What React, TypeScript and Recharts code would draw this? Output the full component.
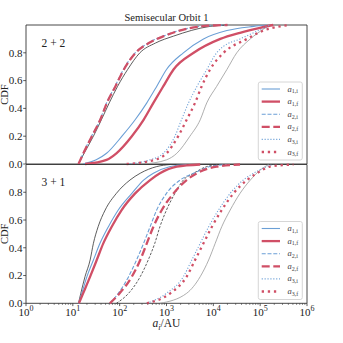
import React from "react";
import { Customized, Line, LineChart, ReferenceArea, XAxis, YAxis } from "recharts";

type Pt = [number, number]; // [a in AU, CDF]

// ---- 2 + 2 panel ----
const TOP_REF_A2: Pt[] = [[13.2, 0], [17.4, 0.077], [27.5, 0.2], [40.7, 0.318], [60, 0.44], [90, 0.558], [148, 0.68], [270, 0.8], [580, 0.87], [1413, 0.92], [8511, 0.99], [19953, 1]];
const TOP_REF_A3: Pt[] = [[324, 0], [1000, 0.03], [1660, 0.077], [3162, 0.2], [5248, 0.318], [7244, 0.44], [11749, 0.558], [19498, 0.68], [31623, 0.8], [61660, 0.9], [117490, 0.97], [162181, 1]];
const TOP_A1_I: Pt[] = [[16.6, 0], [31.6, 0.03], [52.5, 0.077], [112, 0.2], [214, 0.318], [380, 0.44], [617, 0.558], [1000, 0.68], [2291, 0.8], [6166, 0.9], [19498, 0.96], [72444, 0.99], [138038, 1]];
const TOP_A1_F: Pt[] = [[18.2, 0], [52.5, 0.03], [85.1, 0.077], [182, 0.2], [324, 0.318], [525, 0.44], [851, 0.558], [1413, 0.68], [3802, 0.8], [14125, 0.9], [37154, 0.944], [100000, 0.98], [190546, 1]];
const TOP_A2_I: Pt[] = [[13.2, 0], [16.6, 0.077], [25.1, 0.2], [38, 0.318], [52.5, 0.44], [79.4, 0.558], [120, 0.68], [214, 0.8], [407, 0.87], [851, 0.92], [5248, 0.99], [19953, 1]];
const TOP_A2_F: Pt[] = [[13.2, 0], [16.8, 0.077], [25.5, 0.2], [38.5, 0.318], [53.5, 0.44], [81, 0.558], [123, 0.68], [220, 0.8], [420, 0.87], [880, 0.92], [5500, 0.99], [20000, 1]];
const TOP_A3_I: Pt[] = [[141, 0], [447, 0.03], [851, 0.077], [1514, 0.2], [2089, 0.318], [2951, 0.44], [4467, 0.558], [7244, 0.68], [11749, 0.8], [16596, 0.847], [37154, 0.9], [72444, 0.944], [162181, 1]];
const TOP_A3_F: Pt[] = [[141, 0], [562, 0.03], [1000, 0.077], [1778, 0.2], [2692, 0.318], [4074, 0.44], [5623, 0.558], [8511, 0.68], [16596, 0.8], [52481, 0.9], [117490, 0.96], [269153, 0.99], [436516, 1]];

// ---- 3 + 1 panel ----
const BOT_REF_A1: Pt[] = [[13.2, 0], [14.8, 0.072], [18.2, 0.192], [23.4, 0.312], [27.5, 0.432], [34.7, 0.552], [49, 0.672], [85.1, 0.792], [166, 0.888], [275, 0.937], [617, 0.985], [1202, 1]];
const BOT_REF_A2: Pt[] = [[85.1, 0], [155, 0.072], [275, 0.192], [407, 0.312], [562, 0.432], [724, 0.552], [1000, 0.672], [1514, 0.792], [2291, 0.888], [3802, 0.937], [7244, 0.985], [14125, 1]];
const BOT_REF_A3: Pt[] = [[724, 0], [2692, 0.072], [5248, 0.192], [7943, 0.312], [10965, 0.432], [15136, 0.552], [22909, 0.672], [37154, 0.792], [61660, 0.888], [100000, 0.96], [151356, 1]];
const BOT_A1_I: Pt[] = [[13.2, 0], [15.5, 0.072], [20, 0.192], [27.5, 0.312], [38, 0.432], [57.5, 0.552], [93.3, 0.672], [182, 0.792], [324, 0.888], [525, 0.937], [1202, 0.985], [2692, 1]];
const BOT_A1_F: Pt[] = [[13.5, 0], [16.6, 0.072], [23.4, 0.192], [32.4, 0.312], [44.7, 0.432], [67.6, 0.552], [110, 0.672], [214, 0.792], [447, 0.888], [724, 0.937], [1660, 0.985], [5248, 1]];
const BOT_A2_I: Pt[] = [[61.7, 0], [93.3, 0.072], [155, 0.192], [229, 0.312], [324, 0.432], [447, 0.552], [617, 0.672], [1000, 0.792], [1950, 0.888], [3802, 0.937], [8511, 0.985], [19498, 1]];
const BOT_A2_F: Pt[] = [[61.7, 0], [100, 0.072], [182, 0.192], [275, 0.312], [380, 0.432], [525, 0.552], [794, 0.672], [1413, 0.792], [2692, 0.888], [4467, 0.937], [11749, 0.985], [37154, 1]];
const BOT_A3_I: Pt[] = [[380, 0], [1000, 0.072], [2291, 0.192], [3467, 0.312], [5248, 0.432], [7943, 0.552], [12882, 0.672], [22909, 0.792], [43652, 0.888], [72444, 0.937], [138038, 0.985], [190546, 1]];
const BOT_A3_F: Pt[] = [[380, 0], [1202, 0.072], [2692, 0.192], [4074, 0.312], [6166, 0.432], [9333, 0.552], [15136, 0.672], [26915, 0.792], [52481, 0.888], [85114, 0.937], [162181, 0.985], [300000, 0.995], [512861, 1]];

const MAJOR_X = [1, 10, 100, 1000, 10000, 100000, 1000000];
const MINOR_MULT = [2, 3, 4, 5, 6, 7, 8, 9];
const Y_TICKS = [0, 0.2, 0.4, 0.6, 0.8];
const LEGEND_SUBS = ["1,i", "1,f", "2,i", "2,f", "3,i", "3,f"];

const BLUE = "#6b9fd6";
const RED = "#d04f66";
const FONT = "'Liberation Serif', 'DejaVu Serif', serif";
const INK = "#222";

const X_TICKS = [
  ...MAJOR_X,
  ...MAJOR_X.slice(0, -1).flatMap((d) => MINOR_MULT.map((m) => d * m)),
].sort((a, b) => a - b);

// line styles, same order as legend
const STYLES = [
  { color: BLUE, width: 1.1, dash: undefined },
  { color: RED, width: 2.3, dash: undefined },
  { color: BLUE, width: 1.1, dash: "4 1.8" },
  { color: RED, width: 2.3, dash: "8 3.6" },
  { color: BLUE, width: 1.1, dash: "1.1 1.8" },
  { color: RED, width: 2.3, dash: "2.3 3.8" },
];

const toPts = (arr: Pt[]) => arr.map(([a, cdf]) => ({ a, cdf }));

const XTick = (props: any) => {
  const { x, y, payload } = props;
  const v = payload.value;
  const lg = Math.log10(v);
  const exp = Math.round(lg);
  const major = Math.abs(lg - exp) < 1e-6;
  return (
    <g>
      <line x1={x} x2={x} y1={y} y2={y + (major ? 2.8 : 1.6)} stroke="#333" strokeWidth={major ? 0.8 : 0.6} />
      {major && (
        <text x={x} y={y + 12.5} textAnchor="middle" fontSize={11} fill={INK} fontFamily={FONT}>
          10<tspan dy={-4.5} fontSize={8}>{exp}</tspan>
        </text>
      )}
    </g>
  );
};

const YTick = (props: any) => {
  const { x, y, payload } = props;
  return (
    <g>
      <line x1={x - 2.8} x2={x} y1={y} y2={y} stroke="#333" strokeWidth={0.8} />
      <text x={x - 3.5} y={y + 3.8} textAnchor="end" fontSize={11} fill={INK} fontFamily={FONT}>
        {Number(payload.value).toFixed(1)}
      </text>
    </g>
  );
};

const W = 343;
const LEFT = 26;
const RIGHT = 307;

type Ref = { data: Pt[]; color: string; dash?: string };

function Panel(props: {
  top: number;
  bottom: number;
  refs: Ref[];
  series: Pt[][];
  label: string;
  showX: boolean;
  title?: string;
}) {
  const { top, bottom, refs, series, label, showX, title } = props;
  const mid = (top + bottom) / 2;
  const legTop = top + 57;

  const decor = () => (
    <g fontFamily={FONT}>
      {title && (
        <text x={(LEFT + RIGHT) / 2} y={top - 4} textAnchor="middle" fontSize={10.5} fill={INK}>
          {title}
        </text>
      )}
      <text x={41.5} y={top + 21.5} fontSize={11.5} fill={INK}>
        {label}
      </text>
      <text transform={`translate(8, ${mid}) rotate(-90)`} textAnchor="middle" fontSize={10.5} fill={INK}>
        CDF
      </text>
      {showX && (
        <text x={(LEFT + RIGHT) / 2} y={bottom + 24} textAnchor="middle" fontSize={11.5} fill={INK}>
          <tspan fontStyle="italic">a</tspan>
          <tspan fontSize={8} dy={2.5} fontStyle="italic">i</tspan>
          <tspan dy={-2.5}>/AU</tspan>
        </text>
      )}
      <rect x={258.3} y={legTop} width={44} height={78} rx={2} fill="#fff" fillOpacity={0.85} stroke="#ccc" strokeWidth={0.8} />
      {LEGEND_SUBS.map((s, i) => {
        const ly = legTop + 7 + i * 12.6;
        const st = STYLES[i];
        return (
          <g key={s}>
            <line x1={261.7} x2={280} y1={ly} y2={ly} stroke={st.color} strokeWidth={st.width} strokeDasharray={st.dash} />
            <text x={287.5} y={ly + 2.5} fontSize={8.5} fill="#444">
              <tspan fontStyle="italic">a</tspan>
              <tspan fontSize={6} dy={1.8}>{s}</tspan>
            </text>
          </g>
        );
      })}
    </g>
  );

  return (
    <div style={{ position: "absolute", left: 0, top: 0 }}>
      <LineChart width={W} height={W} margin={{ top, right: W - RIGHT, bottom: 0, left: 0 }}>
        <XAxis
          dataKey="a"
          type="number"
          scale="log"
          domain={[1, 1000000]}
          allowDataOverflow
          ticks={showX ? X_TICKS : MAJOR_X}
          interval={0}
          height={W - bottom}
          tickSize={0}
          tickMargin={0}
          axisLine={false}
          tickLine={false}
          tick={showX ? <XTick /> : false}
        />
        <YAxis
          type="number"
          domain={[0, 1]}
          ticks={Y_TICKS}
          interval={0}
          width={LEFT}
          tickSize={0}
          tickMargin={0}
          axisLine={false}
          tickLine={false}
          tick={<YTick />}
        />
        {refs.map((r, i) => (
          <Line
            key={"r" + i}
            data={toPts(r.data)}
            dataKey="cdf"
            type="monotone"
            stroke={r.color}
            strokeWidth={0.8}
            strokeDasharray={r.dash}
            dot={false}
            isAnimationActive={false}
          />
        ))}
        {series.map((d, i) => (
          <Line
            key={"s" + i}
            data={toPts(d)}
            dataKey="cdf"
            type="monotone"
            stroke={STYLES[i].color}
            strokeWidth={STYLES[i].width}
            strokeDasharray={STYLES[i].dash}
            dot={false}
            isAnimationActive={false}
          />
        ))}
        <ReferenceArea x1={1} x2={1000000} y1={0} y2={1} fill="none" stroke="#333" strokeWidth={0.9} ifOverflow="visible" />
        <Customized component={decor} />
      </LineChart>
    </div>
  );
}

export default function App() {
  return (
    <div style={{ position: "absolute", left: 0, top: 0, width: W, height: W, background: "#fff" }}>
      <Panel
        top={25}
        bottom={164}
        title="Semisecular Orbit 1"
        label="2 + 2"
        showX={false}
        refs={[
          { data: TOP_REF_A2, color: "#333" },
          { data: TOP_REF_A3, color: "#999" },
        ]}
        series={[TOP_A1_I, TOP_A1_F, TOP_A2_I, TOP_A2_F, TOP_A3_I, TOP_A3_F]}
      />
      <Panel
        top={164.5}
        bottom={303.3}
        label="3 + 1"
        showX
        refs={[
          { data: BOT_REF_A1, color: "#333" },
          { data: BOT_REF_A2, color: "#333", dash: "2.5 1.5" },
          { data: BOT_REF_A3, color: "#999" },
        ]}
        series={[BOT_A1_I, BOT_A1_F, BOT_A2_I, BOT_A2_F, BOT_A3_I, BOT_A3_F]}
      />
    </div>
  );
}
